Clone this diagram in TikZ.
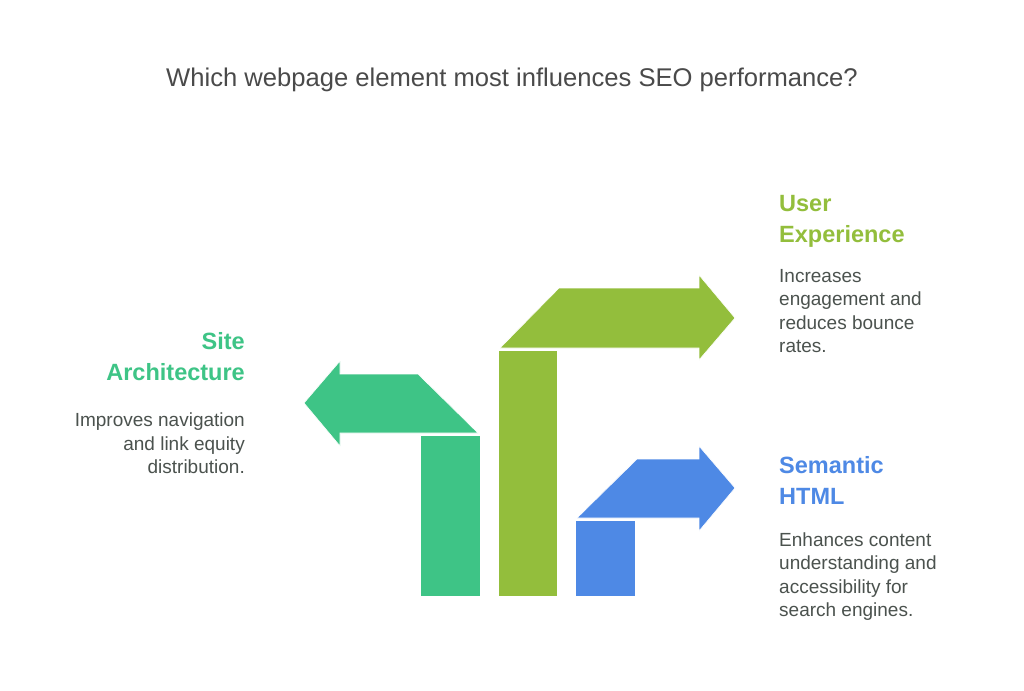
\documentclass[tikz,border=0pt]{standalone}
\usepackage{fontspec}
\setmainfont{Liberation Sans}
\usepackage{tikz}
\definecolor{sitegreen}{HTML}{3EC486}
\definecolor{userolive}{HTML}{93BE3C}
\definecolor{htmlblue}{HTML}{4E89E5}
\definecolor{titlegray}{HTML}{4A4A4A}
\definecolor{bodygray}{HTML}{4B524E}
\tikzset{
	heading/.style={font=\fontsize{23.5}{31}\selectfont\bfseries, inner sep=0pt},
	bodytext/.style={font=\fontsize{19}{23.5}\selectfont, text=bodygray, inner sep=0pt},
}

\begin{document}
\begin{tikzpicture}[x=1pt, y=-1pt]
		%%%%% START %%%%%
		\useasboundingbox[fill=white] (0, 0) rectangle (1024, 690);
		
		\node[font=\fontsize{25.6}{30}\selectfont, text=titlegray, anchor=base] (title) at (512, 87) {Which webpage element most influences SEO performance?};
		
		% site architecture, pointing left
		\draw[fill=sitegreen, draw=white, line width=0.6pt] (304, 403) -- (340, 361) -- (340, 374) -- (418, 374) -- (478, 433) -- (340, 433) -- (340, 446) -- cycle;
		\draw[fill=sitegreen, draw=white, line width=0.6pt] (420, 435) rectangle (480, 596);
		
		% user experience, the tall one
		\draw[fill=userolive, draw=white, line width=0.6pt] (498, 350) rectangle (557, 596);
		\draw[fill=userolive, draw=white, line width=0.6pt] (500, 348) -- (559, 288) -- (699, 288) -- (699, 275) -- (735, 318) -- (699, 360) -- (699, 348) -- cycle;
		
		% semantic html, the short one
		\draw[fill=htmlblue, draw=white, line width=0.6pt] (575, 520) rectangle (635, 596);
		\draw[fill=htmlblue, draw=white, line width=0.6pt] (577, 518) -- (637, 459) -- (699, 459) -- (699, 446) -- (735, 488) -- (699, 531) -- (699, 518) -- cycle;
		
		% base anchor sits on the last line
		\node[heading, text=sitegreen, align=right, anchor=base east] (sitehead) at (245, 380) {Site\\Architecture};
		\node[bodytext, align=right, anchor=base east] (sitebody) at (245, 473.5) {Improves navigation\\and link equity\\distribution.};
		
		\node[heading, text=userolive, align=left, anchor=base west] (userhead) at (779, 242) {User\\Experience};
		\node[bodytext, align=left, anchor=base west] (userbody) at (779, 352.5) {Increases\\engagement and\\reduces bounce\\rates.};
		
		\node[heading, text=htmlblue, align=left, anchor=base west] (htmlhead) at (779, 504) {Semantic\\HTML};
		\node[bodytext, align=left, anchor=base west] (htmlbody) at (779, 616.5) {Enhances content\\understanding and\\accessibility for\\search engines.};
		%%%%% END %%%%%
	\end{tikzpicture}
\end{document}
